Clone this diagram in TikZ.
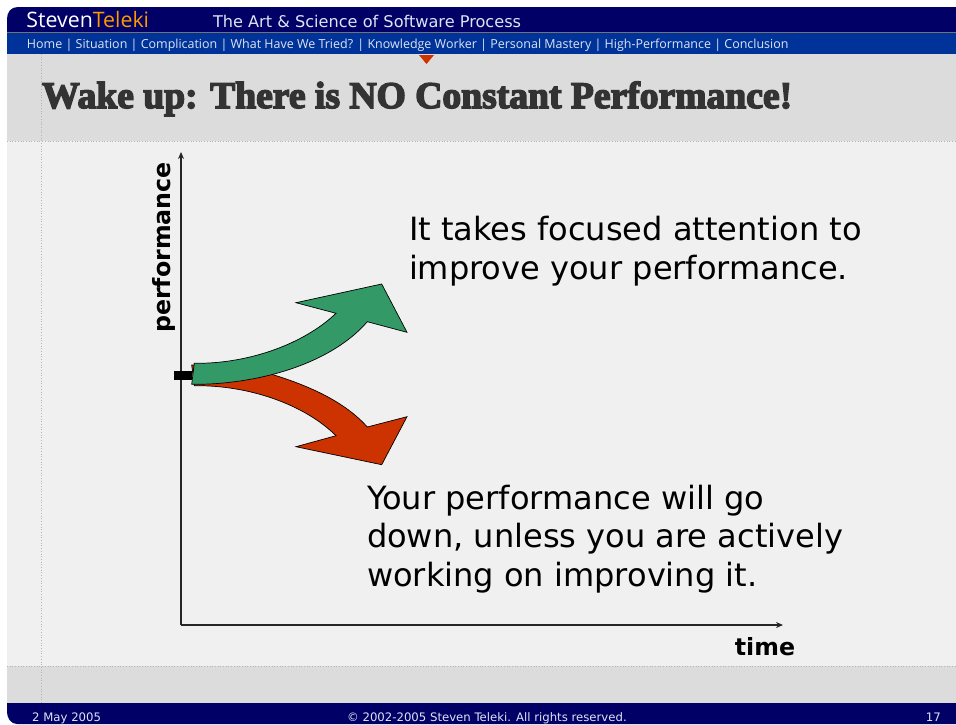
\documentclass[tikz,border=0pt]{standalone}
\usepackage{fontspec}
\setmainfont{DejaVu Sans}
\newfontfamily\navfont{Open Sans}
\newfontfamily\titlefont[FakeBold=4]{Liberation Serif Bold}
\definecolor{navy}{HTML}{000066}
\definecolor{navblue}{HTML}{003399}
\definecolor{band}{HTML}{DCDCDC}
\definecolor{body}{HTML}{F0F0F0}
\definecolor{dotline}{HTML}{B4B4B4}
\definecolor{grn}{HTML}{339966}
\definecolor{redd}{HTML}{CC3300}
\definecolor{org}{HTML}{FF9900}
\definecolor{ink}{HTML}{333333}
\definecolor{navtext}{HTML}{DDE4F2}
\tikzset{
  lab/.style={anchor=base west,inner sep=0pt,outer sep=0pt},
  msg/.style={lab,font=\fontsize{32.05}{38.5}\selectfont,align=left,text=black},
  axislabel/.style={inner sep=0pt,font=\bfseries\fontsize{23.7}{28}\selectfont,text=black},
  axisline/.style={draw=black!85,line width=1.1pt,-{Stealth[length=7pt,width=6pt]}},
  arrowshape/.style={draw=black,line width=.7pt,line join=miter},
  dotrule/.style={draw=dotline,line width=.7pt,dotted},
  foot/.style={inner sep=0pt,text=navtext,font=\fontsize{11.7}{14}\selectfont}
}
\usetikzlibrary{arrows.meta}
\begin{document}
\begin{tikzpicture}[x=1pt,y=-1pt]
\useasboundingbox (0,0) rectangle (956,724);
\fill[white] (0,0) rectangle (956,724);
\fill[body] (7,141) rectangle (956,666);
\fill[band] (7,54) rectangle (956,141);
\fill[band] (7,666) rectangle (956,703);
\fill[navy] (956,7) -- (18,7) .. controls (11,7) and (7,12) .. (7,19) -- (7,32) -- (956,32) -- cycle;
\fill[black!55!white] (7,32) rectangle (956,33);
\fill[navblue] (7,33) rectangle (956,54);
\fill[navy] (7,703) -- (956,703) -- (956,724) -- (17,724) .. controls (11,724) and (7,718) .. (7,712) -- cycle;
\draw[dotrule] (7,141.5) -- (956,141.5);
\draw[dotrule] (7,666.5) -- (956,666.5);
\draw[dotrule] (41.5,54) -- (41.5,703);
\fill[redd] (419,55) -- (434,55) -- (426.5,64) -- cycle;
\node[lab,text=white,font=\navfont\fontsize{21.3}{24}\selectfont] (brand) at (26.5,27) {Steven\textcolor{org}{Teleki}};
\node[lab,text=navtext,font=\fontsize{16.15}{18}\selectfont] (tagline) at (213,27) {The Art \& Science of Software Process};
\node[lab,text=navtext,font=\navfont\fontsize{12.47}{15}\selectfont] (nav) at (27,48) {Home | Situation | Complication | What Have We Tried? | Knowledge Worker | Personal Mastery | High-Performance | Conclusion};
\node[lab,text=ink,font=\titlefont\fontsize{37.6}{40}\selectfont] (title) at (42,108) {Wake up: There is NO Constant Performance!};
\coordinate (origin) at (181,625);
\coordinate (ytop) at (181,152);
\coordinate (xend) at (783,625);
\draw[axisline] (origin) -- (ytop);
\draw[axisline] (origin) -- (xend);
\fill[black] (173.5,371) rectangle (191.5,379.5);
\node[axislabel,rotate=90,anchor=base east] (perf) at (170,162) {performance};
\node[axislabel,anchor=base] (time) at (765,655) {time};
\draw[arrowshape,fill=redd] (191.7,365) .. controls (225,366) and (250,368) .. (271.7,374.3) .. controls (310,386) and (345,402) .. (367.3,427) -- (407,416.7) -- (381.7,464.7) -- (296,446.7) -- (336,435.7) .. controls (305,405) and (250,385) .. (194.3,385.7) -- cycle;
\draw[arrowshape,fill=grn] (194.3,363.3) .. controls (250,364) and (305,343) .. (336,313.3) -- (296,302.7) -- (381.7,284) -- (407,332.3) -- (367.3,321.7) .. controls (330,365) and (255,385) .. (191.7,384.3) -- cycle;
\node[msg] (m1) at (409,279) {It takes focused attention to\\improve your performance.};
\node[msg] (m2) at (367,586) {Your performance will go\\down, unless you are actively\\working on improving it.};
\node[foot,anchor=base west] (date) at (32,721) {2 May 2005};
\node[foot,anchor=base west] (copy) at (347,721) {© 2002-2005 Steven Teleki. All rights reserved.};
\node[foot,anchor=base east] (page) at (941,721) {17};
\end{tikzpicture}
\end{document}
